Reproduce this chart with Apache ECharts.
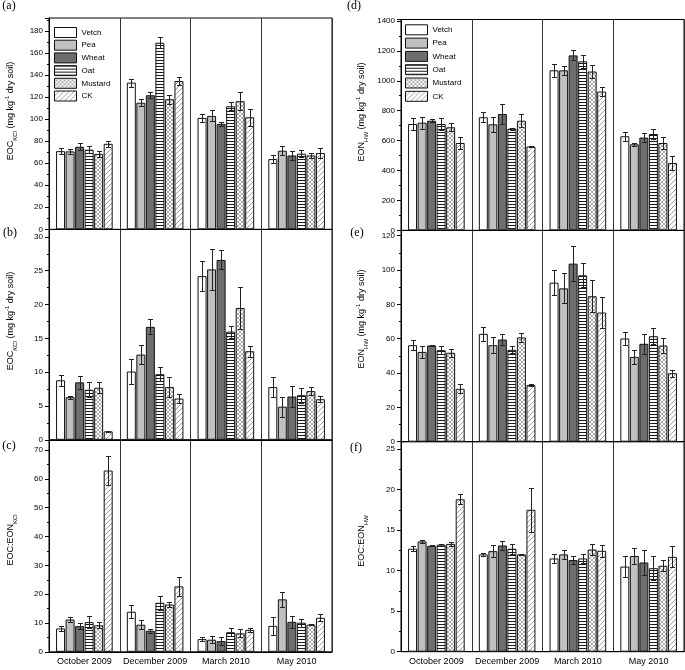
<!DOCTYPE html>
<html><head><meta charset="utf-8">
<script src="https://cdn.jsdelivr.net/npm/echarts@6.0.0/dist/echarts.min.js"></script>
<style>html,body{margin:0;padding:0;background:#fff}#c{width:685px;height:670px}</style>
</head><body><div id="c"></div>
<script>
const categories = ['October 2009', 'December 2009', 'March 2010', 'May 2010'];
const treatments = ['Vetch', 'Pea', 'Wheat', 'Oat', 'Mustard', 'CK'];

// rows: Vetch, Pea, Wheat, Oat, Mustard, CK ; columns: Oct, Dec, Mar, May
const aMean = [[71, 133.3, 101.2, 63.8],[70.8, 115, 103, 71.4],[75, 121.8, 95.8, 67.1],[72.3, 169.5, 111.8, 68.7],[68.5, 118.2, 116.4, 67.1],[77.7, 134.8, 101.8, 69.3]];
const aErr  = [[3, 3.6, 3.3, 3.8],[2, 3, 5, 4.2],[3, 2.7, 2, 4.2],[3.3, 5, 3.5, 3],[3, 4, 8, 2],[2.5, 3.8, 7.5, 4.8]];
const bMean = [[8.8, 10.1, 24.2, 7.8],[6.3, 12.6, 25.2, 4.9],[8.5, 16.7, 26.6, 6.4],[7.4, 9.7, 16.0, 6.6],[7.7, 7.8, 19.5, 7.2],[1.25, 6.1, 13.1, 6.0]];
const bErr  = [[0.8, 1.9, 2.2, 1.5],[0.2, 1.4, 3.0, 1.5],[1.0, 1.1, 1.4, 1.6],[1.1, 1.0, 0.9, 1.1],[0.8, 1.5, 3.1, 0.6],[0.1, 0.6, 0.8, 0.45]];
const cMean = [[8.1, 13.9, 4.4, 9.0],[11.2, 9.4, 4.2, 18.2],[8.9, 7.3, 3.7, 10.4],[10.3, 17.0, 6.8, 10.1],[9.2, 16.4, 6.4, 9.4],[62.9, 22.7, 7.6, 11.8]];
const cErr  = [[1.0, 2.3, 0.7, 3.1],[1.0, 1.5, 1.2, 2.5],[1.0, 0.7, 1.5, 2.0],[2.0, 2.5, 1.3, 1.4],[1.1, 1.0, 1.4, 0.2],[5.0, 3.4, 0.7, 1.2]];
const dMean = [[711, 756, 1070, 629],[720, 709, 1070, 575],[733, 778, 1170, 620],[711, 680, 1130, 644],[689, 733, 1062, 584],[584, 560, 928, 450]];
const dErr  = [[40, 33, 45, 29],[40, 50, 28, 11],[9, 64, 33, 32],[42, 7, 45, 35],[26, 42, 42, 38],[40, 5, 31, 44]];
const eMean = [[56.2, 62.8, 92.6, 60.1],[52.3, 56.2, 89.3, 49.4],[56.0, 59.5, 103.7, 57.0],[53.3, 53.5, 96.9, 61.4],[51.8, 60.7, 84.7, 56.0],[30.8, 33.0, 75.2, 39.9]];
const eErr  = [[3, 3.9, 7.4, 3.5],[3.6, 4.6, 8.7, 4],[0.5, 3, 10, 5.7],[2.5, 2, 7, 4.7],[2.3, 2.5, 9.2, 4.2],[2.6, 0.8, 9, 2]];
const fMean = [[12.7, 12.0, 11.5, 10.5],[13.6, 12.4, 12.0, 11.8],[13.05, 13.1, 11.3, 11.0],[13.2, 12.7, 11.5, 10.3],[13.3, 12.0, 12.6, 10.6],[18.8, 17.5, 12.45, 11.7]];
const fErr  = [[0.33, 0.15, 0.5, 1.3],[0.16, 0.7, 0.6, 1.0],[0.05, 0.5, 0.5, 1.6],[0.12, 0.6, 0.6, 1.5],[0.25, 0.1, 0.7, 0.65],[0.6, 2.75, 0.75, 1.3]];

const yMax = [192, 31.1, 73.5, 1410, 123, 25.9];
const yInterval = [20, 5, 10, 200, 20, 5];

const means = [aMean, bMean, cMean, dMean, eMean, fMean];
const errs = [aErr, bErr, cErr, dErr, eErr, fErr];

const grids = [
  {left: 49, top: 18, width: 283, height: 211.3},
  {left: 49, top: 229.5, width: 283, height: 210.3},
  {left: 49, top: 440, width: 283, height: 211.8},
  {left: 401, top: 19.5, width: 283, height: 210.8},
  {left: 401, top: 230.5, width: 283, height: 211.2},
  {left: 401, top: 441.7, width: 283, height: 210}
];

const FONT = 'Liberation Sans, Arial, sans-serif';

function makePattern(kind) {
  const c = document.createElement('canvas');
  let g;
  if (kind === 'h') {
    c.width = 4; c.height = 3; g = c.getContext('2d');
    g.fillStyle = '#fff'; g.fillRect(0, 0, 4, 3);
    g.fillStyle = '#1a1a1a'; g.fillRect(0, 0, 4, 1);
  } else if (kind === 'x') {
    c.width = 4; c.height = 4; g = c.getContext('2d');
    g.fillStyle = '#fff'; g.fillRect(0, 0, 4, 4);
    g.strokeStyle = '#888'; g.lineWidth = 0.7;
    g.beginPath();
    g.moveTo(-1, -1); g.lineTo(5, 5);
    g.moveTo(-1, 5); g.lineTo(5, -1);
    g.stroke();
  } else {
    c.width = 5; c.height = 5; g = c.getContext('2d');
    g.fillStyle = '#fff'; g.fillRect(0, 0, 5, 5);
    g.strokeStyle = '#888'; g.lineWidth = 0.8;
    g.beginPath();
    g.moveTo(-1, 6); g.lineTo(6, -1);
    g.moveTo(-1, 1); g.lineTo(1, -1);
    g.moveTo(4, 6); g.lineTo(6, 4);
    g.stroke();
  }
  return {image: c, repeat: 'repeat'};
}

const fills = ['#ffffff', '#c0c0c0', '#6e6e6e', makePattern('h'), makePattern('x'), makePattern('d')];

const CAT_GAP = 0.2, BAR_GAP = 0.06, NB = 6;

const xAxis = [], yAxis = [], series = [];
for (let p = 0; p < 6; p++) {
  const showX = (p === 2 || p === 5);
  xAxis.push({
    type: 'category', gridIndex: p, data: categories,
    axisTick: {show: false},
    axisLine: {show: true, lineStyle: {color: '#000', width: 1}},
    axisLabel: {show: showX, fontSize: 9, color: '#000', margin: 5, fontFamily: FONT, interval: 0},
    splitLine: {show: true, lineStyle: {color: '#333', width: 1}}
  });
  yAxis.push({
    type: 'value', gridIndex: p, min: 0, max: yMax[p], interval: yInterval[p],
    axisLine: {show: true, lineStyle: {color: '#000', width: 1}},
    axisTick: {show: true, inside: false, length: 4, lineStyle: {color: '#000'}},
    minorTick: {show: true, splitNumber: 2, length: 2, lineStyle: {color: '#000'}},
    axisLabel: {fontSize: 8, color: '#000', margin: 6, fontFamily: FONT, showMaxLabel: false,
      formatter: function (v) { return String(v); }},
    splitLine: {show: false}
  });
  for (let t = 0; t < NB; t++) {
    series.push({
      type: 'bar', name: treatments[t], xAxisIndex: p, yAxisIndex: p,
      data: means[p][t],
      barCategoryGap: (CAT_GAP * 100) + '%', barGap: (BAR_GAP * 100) + '%',
      itemStyle: {color: fills[t], borderColor: '#111', borderWidth: 1},
      emphasis: {disabled: true}, silent: true
    });
  }
  const errData = [];
  for (let t = 0; t < NB; t++) for (let c = 0; c < 4; c++) errData.push([c, t, means[p][t][c], errs[p][t][c]]);
  series.push({
    type: 'custom', xAxisIndex: p, yAxisIndex: p, z: 5, silent: true,
    encode: {x: 0, y: 2},
    data: errData,
    renderItem: function (params, api) {
      const c = api.value(0), t = api.value(1), m = api.value(2), e = api.value(3);
      const band = api.size([1, 0])[0];
      const w = band * (1 - CAT_GAP) / (NB + (NB - 1) * BAR_GAP);
      const center = api.coord([c, m]);
      let x = center[0] - band * (1 - CAT_GAP) / 2 + w / 2 + t * w * (1 + BAR_GAP);
      x = Math.round(x) + 0.5;
      const yT = Math.round(api.coord([c, m + e])[1]) + 0.5;
      const yB = Math.round(api.coord([c, m - e])[1]) + 0.5;
      const cap = 2.5;
      const st = {stroke: '#222', lineWidth: 1};
      return {type: 'group', children: [
        {type: 'line', shape: {x1: x, y1: yT, x2: x, y2: yB}, style: st},
        {type: 'line', shape: {x1: x - cap, y1: yT, x2: x + cap, y2: yT}, style: st},
        {type: 'line', shape: {x1: x - cap, y1: yB, x2: x + cap, y2: yB}, style: st}
      ]};
    }
  });
}

const richStyles = {
  m: {fontSize: 9, fontFamily: FONT, color: '#000', lineHeight: 14},
  s: {fontSize: 6, fontFamily: FONT, color: '#000', lineHeight: 6, verticalAlign: 'bottom'},
  p: {fontSize: 6, fontFamily: FONT, color: '#000', lineHeight: 6, verticalAlign: 'top'}
};
const axisTitles = [
  {x: 11, y: 111, text: '{m|EOC}{s|KCl}{m| (mg kg}{p|-1}{m| dry soil)}'},
  {x: 11, y: 321, text: '{m|EOC}{s|KCl}{m| (mg kg}{p|-1}{m| dry soil)}'},
  {x: 11, y: 540, text: '{m|EOC:EON}{s|KCl}'},
  {x: 362, y: 112, text: '{m|EON}{s|HW}{m| (mg kg}{p|-1}{m| dry soil)}'},
  {x: 362, y: 319, text: '{m|EON}{s|HW}{m| (mg kg}{p|-1}{m| dry soil)}'},
  {x: 362, y: 541, text: '{m|EOC:EON}{s|HW}'}
];
const panelLabels = [
  {x: 9, y: 6, text: '(a)'}, {x: 10, y: 233, text: '(b)'}, {x: 9, y: 446, text: '(c)'},
  {x: 354, y: 6, text: '(d)'}, {x: 357, y: 233, text: '(e)'}, {x: 356, y: 448, text: '(f)'}
];
const graphic = [];
axisTitles.forEach(a => graphic.push({
  type: 'text', x: a.x, y: a.y, rotation: Math.PI / 2, silent: true,
  style: {text: a.text, rich: richStyles, align: 'center', verticalAlign: 'middle'}
}));
panelLabels.forEach(l => graphic.push({
  type: 'text', x: l.x, y: l.y, silent: true,
  style: {text: l.text, fontSize: 12, fontFamily: 'Liberation Serif, Times New Roman, serif', fill: '#000', align: 'center', verticalAlign: 'middle'}
}));

const legendBase = {
  data: treatments, orient: 'vertical', itemWidth: 22, itemHeight: 10, icon: 'rect',
  selectedMode: false, padding: 0,
  textStyle: {fontSize: 8, fontFamily: FONT, color: '#000'},
  itemStyle: {borderColor: '#111', borderWidth: 1}
};

const chart = echarts.init(document.getElementById('c'), null, {renderer: 'canvas'});
chart.setOption({
  animation: false,
  backgroundColor: '#fff',
  grid: grids.map(g => Object.assign({show: true, borderColor: '#000', borderWidth: 1, backgroundColor: 'transparent', containLabel: false, outerBoundsMode: 'none'}, g)),
  xAxis: xAxis,
  yAxis: yAxis,
  legend: [
    Object.assign({left: 54, top: 27, itemGap: 1.7}, legendBase),
    Object.assign({left: 405, top: 24.3, itemGap: 2.3}, legendBase)
  ],
  graphic: graphic,
  series: series
});
</script>
</body></html>
